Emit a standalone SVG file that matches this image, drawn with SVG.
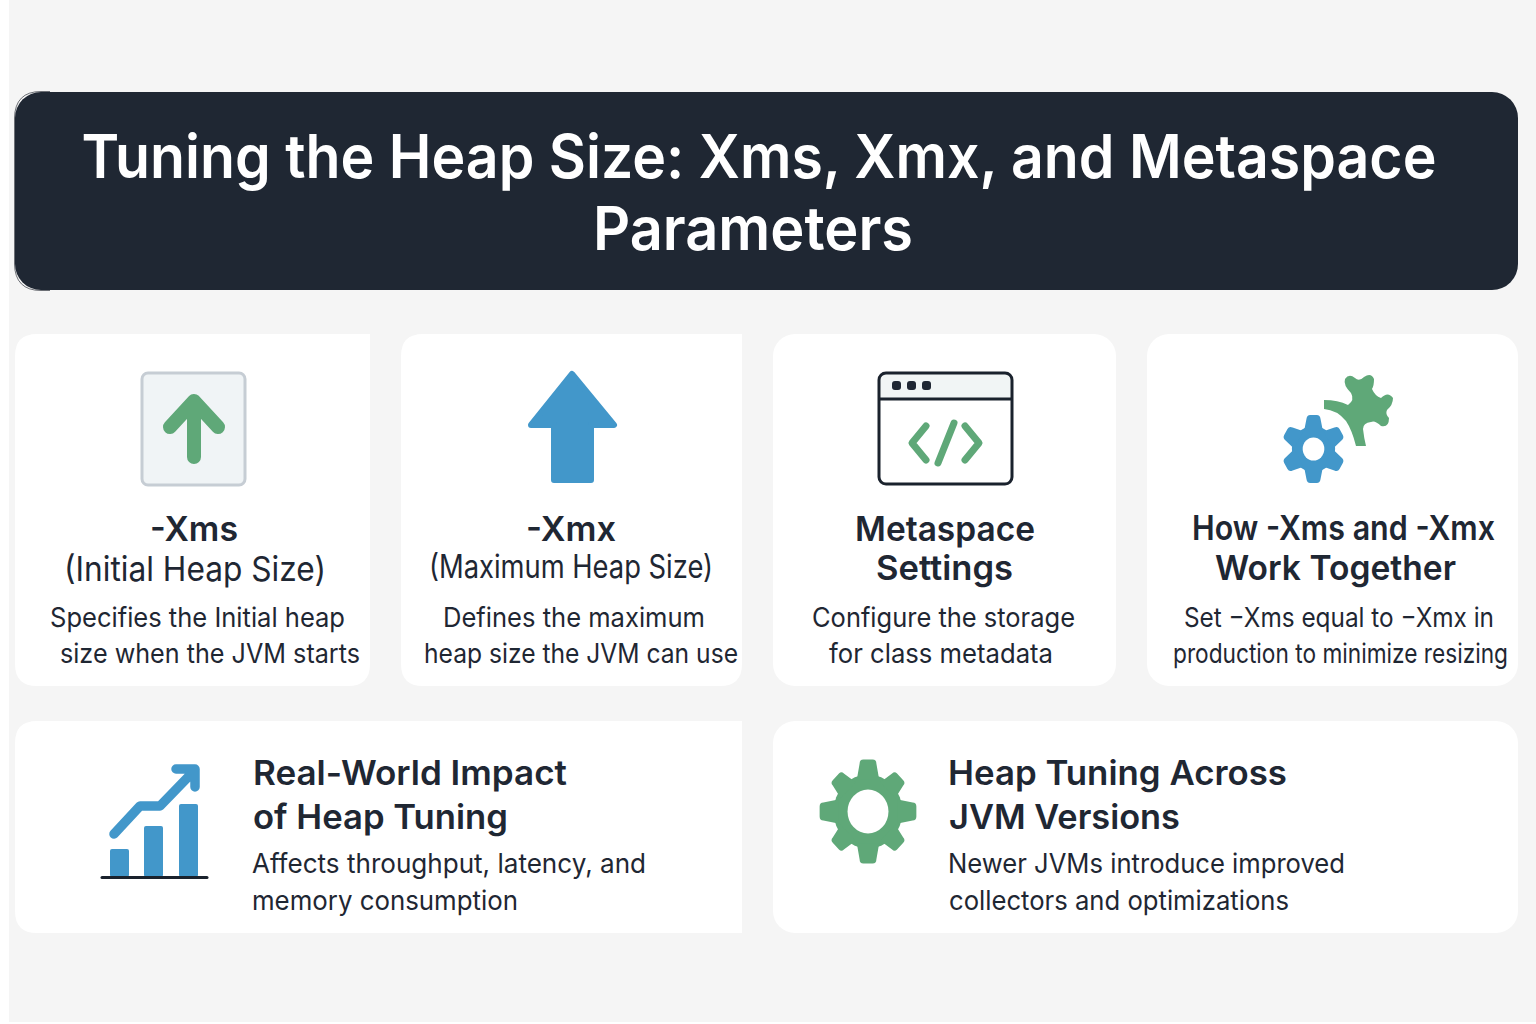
<svg xmlns="http://www.w3.org/2000/svg" width="1536" height="1024" viewBox="0 0 1536 1024">
<style>
text{font-family:Inter,"Liberation Sans",sans-serif;fill:#1f2733}
.t{font-size:60px;font-weight:600;fill:#fff;text-anchor:middle}
.h{font-size:34px;font-weight:600;text-anchor:start}
.s{font-size:34px;font-weight:400}
.b{font-size:27px;font-weight:400}
.card{fill:#fff}
.g{fill:#5fa878}
.bl{fill:#4297ca}
</style>
<defs>
<path id="tooth8" d="M-12 -32L-9 -48Q-9 -52 -5 -52H5Q9 -52 9 -48L12 -32Z"/>
<path id="tooth6" d="M-10 -18L-7.500 -30Q-7 -34 -3.500 -34H3.500Q7 -34 7.500 -30L10 -18Z"/>
</defs>
<rect width="1536" height="1024" fill="#fff"/>
<rect x="9" y="0" width="1527" height="1022" fill="#f5f5f5"/>
<g id="title">
<rect x="15" y="92" width="1503" height="198" rx="26" fill="#1f2733"/>
<path d="M50 91.500H41Q15 91.500 14.500 118V264Q15 290.500 41 290.500H50" fill="none" stroke="#10161f" stroke-width="1" stroke-opacity=".6"/>
<text class="t" x="759" y="178" textLength="1355" lengthAdjust="spacingAndGlyphs">Tuning the Heap Size: Xms, Xmx, and Metaspace</text>
<text class="t" x="753" y="250" textLength="320" lengthAdjust="spacingAndGlyphs">Parameters</text>
</g>
<g id="card-xms">
<path class="card" d="M37 334H370V664Q370 686 348 686H37Q15 686 15 664V356Q15 334 37 334Z"/>
<rect x="142" y="373" width="103" height="112" rx="6" fill="#f0f4f6" stroke="#c6cdd4" stroke-width="3"/>
<path d="M194 457V401M170 427L194 401L218 427" fill="none" stroke="#5fa878" stroke-width="14" stroke-linecap="round" stroke-linejoin="round"/>
<text class="h" x="150" y="541" textLength="88" lengthAdjust="spacingAndGlyphs">-Xms</text>
<text class="s" x="64" y="581" textLength="262" lengthAdjust="spacingAndGlyphs">(Initial Heap Size)</text>
<text class="b" x="50" y="627" textLength="295" lengthAdjust="spacingAndGlyphs">Specifies the Initial heap</text>
<text class="b" x="60" y="663" textLength="300" lengthAdjust="spacingAndGlyphs">size when the JVM starts</text>
</g>
<g id="card-xmx">
<path class="card" d="M423 334H742V664Q742 686 720 686H423Q401 686 401 664V356Q401 334 423 334Z"/>
<path class="bl" stroke="#4297ca" stroke-width="6" stroke-linejoin="round" d="M572 374L614 425H591V480H554V425H531Z"/>
<text class="h" x="526" y="541" textLength="90" lengthAdjust="spacingAndGlyphs">-Xmx</text>
<text class="s" x="429" y="578" textLength="284" lengthAdjust="spacingAndGlyphs" style="font-size:32px">(Maximum Heap Size)</text>
<text class="b" x="443" y="627" textLength="262" lengthAdjust="spacingAndGlyphs">Defines the maximum</text>
<text class="b" x="424" y="663" textLength="314" lengthAdjust="spacingAndGlyphs">heap size the JVM can use</text>
</g>
<g id="card-metaspace">
<rect class="card" x="773" y="334" width="343" height="352" rx="22"/>
<path d="M886 373H1004Q1011 373 1011 380V399H879V380Q879 373 886 373Z" fill="#f1f5f5"/>
<rect x="879" y="373" width="133" height="111" rx="7" fill="none" stroke="#1a222d" stroke-width="3"/>
<path d="M879 399H1012" stroke="#1a222d" stroke-width="3"/>
<rect x="892" y="381" width="9" height="9" rx="3" fill="#1f2733"/>
<rect x="907" y="381" width="9" height="9" rx="3" fill="#1f2733"/>
<rect x="922" y="381" width="9" height="9" rx="3" fill="#1f2733"/>
<path d="M926 426L912 443L926 460M954 423L938 463M965 426L979 443L965 460" fill="none" stroke="#5fa878" stroke-width="7" stroke-linecap="round" stroke-linejoin="round"/>
<text class="h" x="855" y="541" textLength="180" lengthAdjust="spacingAndGlyphs">Metaspace</text>
<text class="h" x="876" y="580" textLength="137" lengthAdjust="spacingAndGlyphs">Settings</text>
<text class="b" x="812" y="627" textLength="263" lengthAdjust="spacingAndGlyphs">Configure the storage</text>
<text class="b" x="829" y="663" textLength="224" lengthAdjust="spacingAndGlyphs">for class metadata</text>
</g>
<g id="card-together">
<rect class="card" x="1147" y="334" width="371" height="352" rx="22"/>
<path class="g" d="M1324 400Q1338 400 1348 405Q1355 400 1351 393Q1343 385 1345 379Q1349 373 1355 378Q1359 382 1364 377Q1371 372 1374 379Q1374 386 1372 389Q1375 396 1381 398Q1388 391 1393 398Q1393 405 1387 410Q1385 414 1389 418Q1389 428 1381 426Q1375 420 1371 422Q1363 423 1363 429Q1364 438 1366 446H1356Q1352 430 1346 421Q1337 410 1324 409Z"/>
<g class="bl" transform="translate(1313.5 449) scale(.94 1)">
<circle r="23"/>
<use href="#tooth6"/><use href="#tooth6" transform="rotate(60)"/><use href="#tooth6" transform="rotate(120)"/><use href="#tooth6" transform="rotate(180)"/><use href="#tooth6" transform="rotate(240)"/><use href="#tooth6" transform="rotate(300)"/>
<circle r="11.500" fill="#fff"/>
</g>
<text class="h" x="1192" y="540" textLength="303" lengthAdjust="spacingAndGlyphs">How -Xms and -Xmx</text>
<text class="h" x="1215" y="580" textLength="241" lengthAdjust="spacingAndGlyphs">Work Together</text>
<text class="b" x="1184" y="627" textLength="310" lengthAdjust="spacingAndGlyphs">Set −Xms equal to −Xmx in</text>
<text class="b" x="1173" y="663" textLength="335" lengthAdjust="spacingAndGlyphs">production to minimize resizing</text>
</g>
<g id="card-impact">
<path class="card" d="M37 721H742V933H37Q15 933 15 911V743Q15 721 37 721Z"/>
<g class="bl">
<rect x="110" y="849" width="19" height="28" rx="2"/>
<rect x="144" y="826" width="19" height="51" rx="2"/>
<rect x="179" y="804" width="19" height="73" rx="2"/>
</g>
<path d="M114 834L140 806H160L192 773M176 769H195V787" fill="none" stroke="#4297ca" stroke-width="9.500" stroke-linecap="round" stroke-linejoin="round"/>
<path d="M102 877.500H207" stroke="#1a222d" stroke-width="3" stroke-linecap="round"/>
<text class="h" x="253" y="785" textLength="314" lengthAdjust="spacingAndGlyphs">Real-World Impact</text>
<text class="h" x="253" y="829" textLength="255" lengthAdjust="spacingAndGlyphs">of Heap Tuning</text>
<text class="b" x="252" y="873" textLength="394" lengthAdjust="spacingAndGlyphs">Affects throughput, latency, and</text>
<text class="b" x="252" y="910" textLength="266" lengthAdjust="spacingAndGlyphs">memory consumption</text>
</g>
<g id="card-versions">
<rect class="card" x="773" y="721" width="745" height="212" rx="22"/>
<g class="g" transform="translate(868 811.500) scale(.93 1)">
<circle r="37"/>
<use href="#tooth8"/><use href="#tooth8" transform="rotate(45) scale(.94)"/><use href="#tooth8" transform="rotate(90)"/><use href="#tooth8" transform="rotate(135) scale(.94)"/><use href="#tooth8" transform="rotate(180)"/><use href="#tooth8" transform="rotate(225) scale(.94)"/><use href="#tooth8" transform="rotate(270)"/><use href="#tooth8" transform="rotate(315) scale(.94)"/>
<circle r="22" fill="#fff"/>
</g>
<text class="h" x="948" y="785" textLength="339" lengthAdjust="spacingAndGlyphs">Heap Tuning Across</text>
<text class="h" x="949" y="829" textLength="231" lengthAdjust="spacingAndGlyphs">JVM Versions</text>
<text class="b" x="948" y="873" textLength="397" lengthAdjust="spacingAndGlyphs">Newer JVMs introduce improved</text>
<text class="b" x="949" y="910" textLength="340" lengthAdjust="spacingAndGlyphs">collectors and optimizations</text>
</g>
</svg>
